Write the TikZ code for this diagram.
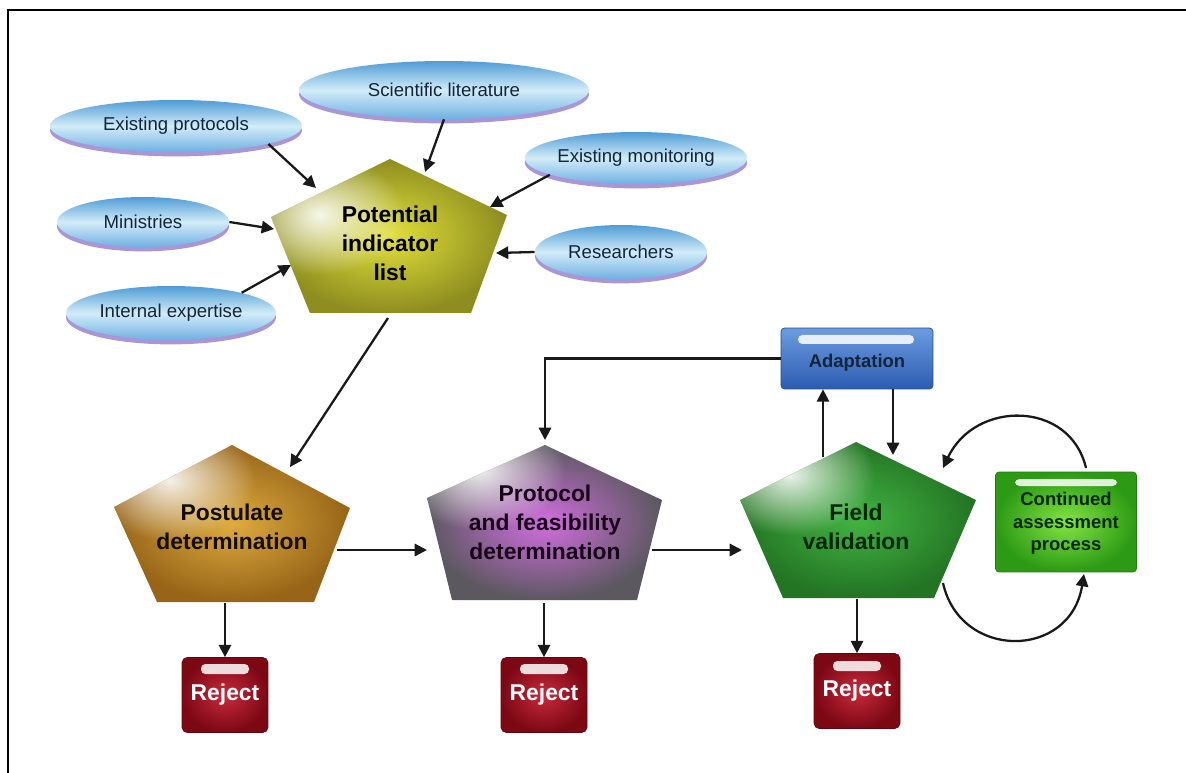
\documentclass[tikz,border=0pt]{standalone}
\usepackage{fontspec}
\setmainfont{Liberation Sans}
\usetikzlibrary{arrows.meta,shapes.geometric,fadings,shadows}
\tikzfading[name=glowfade, inner color=transparent!0, outer color=transparent!100]

\definecolor{ellTop}{HTML}{4F9CD6}
\definecolor{ellMid}{HTML}{D2ECF8}
\definecolor{ellBot}{HTML}{6FB0E2}
\definecolor{ellShadow}{HTML}{A996D6}
\definecolor{ellText}{HTML}{14243A}
\definecolor{pilIn}{HTML}{E2E03A}
\definecolor{pilOut}{HTML}{8E8E20}
\definecolor{pdIn}{HTML}{DEAC3E}
\definecolor{pdOut}{HTML}{976418}
\definecolor{pfIn}{HTML}{D26EE0}
\definecolor{pfOut}{HTML}{5C5860}
\definecolor{fvIn}{HTML}{42B442}
\definecolor{fvOut}{HTML}{237423}
\definecolor{rejIn}{HTML}{C82A3C}
\definecolor{rejOut}{HTML}{7C0814}
\definecolor{adTop}{HTML}{6C9CE0}
\definecolor{adBot}{HTML}{2C5CB0}
\definecolor{caIn}{HTML}{84E444}
\definecolor{caOut}{HTML}{2C9A14}

\tikzset{
  frame/.style={line width=1.1pt, draw=black},
  conn/.style={line width=1.3pt, draw=black!90, -{Triangle[length=7pt,width=7pt]}},
  ell/.style={ellipse, inner sep=0pt, shading=axis, top color=ellTop, bottom color=ellBot, middle color=ellMid,
    drop shadow={shadow xshift=0pt, shadow yshift=-2.5pt, fill=ellShadow, opacity=1},
    font=\fontsize{10.6}{12}\selectfont, text=ellText},
  ptxt/.style={align=center, font=\bfseries\fontsize{13}{16.5}\selectfont, inner sep=0pt},
  rej/.style={rectangle, rounded corners=3pt, minimum width=1.72cm, minimum height=1.5cm,
    inner color=rejIn, outer color=rejOut, draw=rejOut!80!black, line width=.4pt,
    text=white, font=\bfseries\fontsize{13}{15}\selectfont},
  adbox/.style={rectangle, rounded corners=2pt, minimum width=3.04cm, minimum height=1.22cm,
    top color=adTop, bottom color=adBot, draw=adBot!80!black, line width=.4pt,
    text=ellText, font=\bfseries\fontsize{10.5}{12}\selectfont},
  cabox/.style={rectangle, rounded corners=2pt, minimum width=2.82cm, minimum height=2.0cm,
    inner color=caIn, outer color=caOut, draw=caOut!80!black, line width=.4pt, align=center,
    text={black!85!green}, font=\bfseries\fontsize{10.5}{12.8}\selectfont},
  gloss/.style={fill=white, opacity=.85, rounded corners=2.5pt},
}

\newcommand\pentfill[8]{%
  \coordinate (#1-T) at #2; \coordinate (#1-L) at #3; \coordinate (#1-R) at #4;
  \coordinate (#1-BL) at #5; \coordinate (#1-BR) at #6;
  \path[#7] (#1-T) -- (#1-R) -- (#1-BR) -- (#1-BL) -- (#1-L) -- cycle;
  \begin{scope}
    \clip (#1-T) -- (#1-R) -- (#1-BR) -- (#1-BL) -- (#1-L) -- cycle;
    \fill[white, path fading=glowfade, opacity=.9] #8 ellipse [x radius=1.7cm, y radius=1.2cm];
  \end{scope}
}

\begin{document}
\begin{tikzpicture}[x=0.02cm,y=-0.02cm]
\useasboundingbox (0,0) rectangle (1186,773);
\draw[frame] (1186,10) -- (8,10) -- (8,773);

% source ellipses
\node[ell, minimum width=5.04cm, minimum height=1.04cm] (ep) at (176,126) {Existing protocols};
\node[ell, minimum width=5.8cm, minimum height=1.16cm] (sl) at (444,90) {Scientific literature};
\node[ell, minimum width=4.16cm, minimum height=1.04cm] (em) at (636,158) {Existing monitoring};
\node[ell, minimum width=3.44cm, minimum height=1.0cm] (mi) at (143,222) {Ministries};
\node[ell, minimum width=3.44cm, minimum height=1.08cm] (re) at (621,252) {Researchers};
\node[ell, minimum width=4.2cm, minimum height=1.08cm] (ie) at (171,313) {Internal expertise};

% pentagons
\pentfill{pilp}{(390,159)}{(271,217)}{(507,215)}{(310,313)}{(471,313)}{inner color=pilIn, outer color=pilOut}{(320,215)}
\node[ptxt] (pil) at (390,243) {Potential\\indicator\\list};

\pentfill{pdp}{(232,445)}{(114,507)}{(350,508)}{(157,602)}{(314,602)}{inner color=pdIn, outer color=pdOut}{(170,480)}
\node[ptxt, text=black!90!brown] (pd) at (232,527) {Postulate\\determination};

\pentfill{pfp}{(545,445)}{(427,498)}{(662,500)}{(452,600)}{(637,600)}{inner color=pfIn, outer color=pfOut}{(480,470)}
\node[ptxt, text=black!80!violet] (pf) at (545,522) {Protocol\\and feasibility\\determination};

\pentfill{fvp}{(856,442)}{(740,500)}{(976,500)}{(783,598)}{(934,598)}{inner color=fvIn, outer color=fvOut}{(790,475)}
\node[ptxt, text=black!85!green] (fv) at (856,527) {Field\\validation};

% boxes
\node[rej] (rj1) at (225,695) {Reject};
\node[rej] (rj2) at (544,695) {Reject};
\node[rej] (rj3) at (857,691) {Reject};
\node[adbox] (ad) at (857,358.5) {\raisebox{-2.5pt}[\height][\depth]{Adaptation}};
\node[cabox] (ca) at (1066,522) {\raisebox{-1pt}[\height][\depth]{\begin{tabular}{@{}c@{}}Continued\\assessment\\process\end{tabular}}};

% gloss bars
\fill[gloss] (201,664) rectangle (249,674);
\fill[gloss] (520,664) rectangle (568,674);
\fill[gloss] (833,661) rectangle (881,671);
\fill[gloss] (798,335) rectangle (914,344);
\fill[gloss] (1015,479) rectangle (1117,486);

% coordinates on pentagons
\coordinate (pil-a1) at (316,188);
\coordinate (pil-a2) at (425,172);
\coordinate (pil-a3) at (490,207);
\coordinate (pil-a4) at (274,229);
\coordinate (pil-a5) at (496,253);
\coordinate (pil-a6) at (291,265);
\coordinate (pil-out) at (388,318);
\coordinate (pd-in) at (290,467);
\coordinate (pd-out) at (337,550);
\coordinate (pd-b) at (225,603);
\coordinate (pf-in) at (427,550);
\coordinate (pf-out) at (652,550);
\coordinate (pf-b) at (544,603);
\coordinate (pf-t) at (545,440);
\coordinate (fv-in) at (742,550);
\coordinate (fv-b) at (857,599);
\coordinate (fv-u) at (823,457);
\coordinate (fv-d) at (893,455);
\coordinate (fv-r1) at (943,468);
\coordinate (fv-r2) at (943,583);
\coordinate (ca-t) at (1086,468);
\coordinate (ca-b) at (1084,574);

% connectors into the list
\draw[conn] (ep.-11) -- (pil-a1);
\draw[conn] (sl.south) -- (pil-a2);
\draw[conn] (em.191) -- (pil-a3);
\draw[conn] (mi.east) -- (pil-a4);
\draw[conn] (re.west) -- (pil-a5);
\draw[conn] (ie.16) -- (pil-a6);

% main flow
\draw[conn] (pil-out) -- (pd-in);
\draw[conn] (pd-out) -- (pf-in);
\draw[conn] (pf-out) -- (fv-in);
\draw[conn] (pd-b) -- (rj1.north);
\draw[conn] (pf-b) -- (rj2.north);
\draw[conn] (fv-b) -- (rj3.north);

% adaptation loop
\draw[conn] (ad.west) -| (pf-t);
\draw[conn] (fv-u) -- (fv-u |- ad.south);
\draw[conn] (fv-d |- ad.south) -- (fv-d);

% continued assessment loop
\draw[conn] (ca-t) .. controls (1070,400) and (975,400) .. (fv-r1);
\draw[conn] (fv-r2) .. controls (960,660) and (1070,660) .. (ca-b);
\end{tikzpicture}
\end{document}
